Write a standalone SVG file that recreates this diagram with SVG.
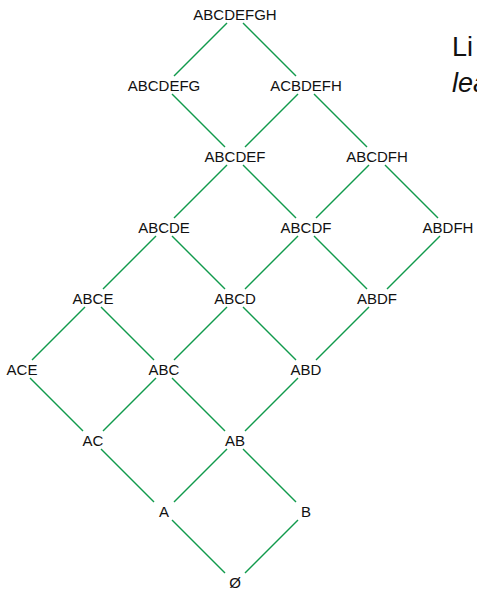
<svg xmlns="http://www.w3.org/2000/svg" width="477" height="590" viewBox="0 0 477 590">
<style>
.n text{font-family:"Liberation Sans",Arial,sans-serif;font-size:15px;fill:#111;text-anchor:middle}
.e path{fill:none;stroke:#119a4c;stroke-width:1.4}
.big{font-family:"Liberation Sans",Arial,sans-serif;font-size:27px;fill:#111}
</style>
<rect width="477" height="590" fill="#fff"/>
<g class="e" id="connectors">
<path d="M227 23l-53 53"/>
<path d="M243 23l53 53"/>
<path d="M172 94l53 53"/>
<path d="M298 94l-53 53"/>
<path d="M314 94l53 53"/>
<path d="M227 165l-53 53"/>
<path d="M243 165l53 53"/>
<path d="M369 165l-53 53"/>
<path d="M385 165l53 53"/>
<path d="M156 236l-53 53"/>
<path d="M172 236l53 53"/>
<path d="M298 236l-53 53"/>
<path d="M314 236l53 53"/>
<path d="M440 236l-53 53"/>
<path d="M85 307l-53 53"/>
<path d="M101 307l53 53"/>
<path d="M227 307l-53 53"/>
<path d="M243 307l53 53"/>
<path d="M369 307l-53 53"/>
<path d="M30 378l53 53"/>
<path d="M156 378l-53 53"/>
<path d="M172 378l53 53"/>
<path d="M298 378l-53 53"/>
<path d="M101 449l53 53"/>
<path d="M227 449l-53 53"/>
<path d="M243 449l53 53"/>
<path d="M172 520l53 53"/>
<path d="M298 520l-53 53"/>
</g>
<g class="n">
<g id="ABCDEFGH"><text x="235" y="20">ABCDEFGH</text></g>
<g id="ABCDEFG"><text x="164" y="91">ABCDEFG</text></g>
<g id="ACBDEFH"><text x="306" y="91">ACBDEFH</text></g>
<g id="ABCDEF"><text x="235" y="162">ABCDEF</text></g>
<g id="ABCDFH"><text x="377" y="162">ABCDFH</text></g>
<g id="ABCDE"><text x="164" y="233">ABCDE</text></g>
<g id="ABCDF"><text x="306" y="233">ABCDF</text></g>
<g id="ABDFH"><text x="448" y="233">ABDFH</text></g>
<g id="ABCE"><text x="93" y="304">ABCE</text></g>
<g id="ABCD"><text x="235" y="304">ABCD</text></g>
<g id="ABDF"><text x="377" y="304">ABDF</text></g>
<g id="ACE"><text x="22" y="375">ACE</text></g>
<g id="ABC"><text x="164" y="375">ABC</text></g>
<g id="ABD"><text x="306" y="375">ABD</text></g>
<g id="AC"><text x="93" y="446">AC</text></g>
<g id="AB"><text x="235" y="446">AB</text></g>
<g id="A"><text x="164" y="517">A</text></g>
<g id="B"><text x="306" y="517">B</text></g>
<g id="empty"><text x="235" y="588">Ø</text></g>
</g>
<text class="big" x="452" y="56">Li</text>
<text class="big" x="452" y="92" font-style="italic">lea</text>
</svg>
